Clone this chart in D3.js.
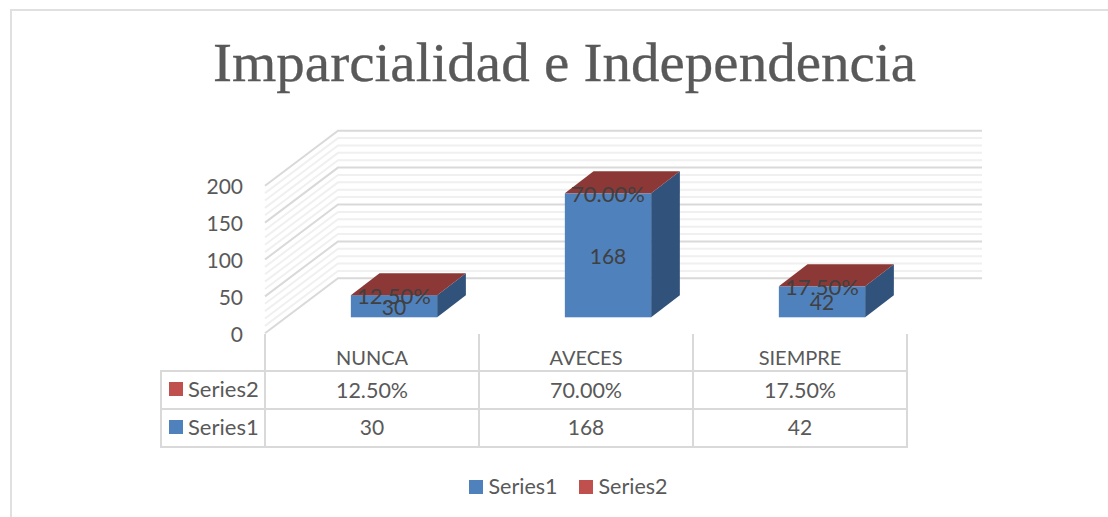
<!DOCTYPE html>
<html><head><meta charset="utf-8">
<script src="https://cdn.jsdelivr.net/npm/d3@7/dist/d3.min.js"></script>
<style>html,body{margin:0;padding:0;background:#fff}svg{display:block}</style>
</head><body><svg id="c" width="1108" height="517"></svg>
<script>
const chartTitle = "Imparcialidad e Independencia";
const categories = ["NUNCA","AVECES","SIEMPRE"];
const series1 = [30,168,42];
const series2 = ["12.50%","70.00%","17.50%"];
const seriesNames = ["Series1","Series2"];
const seriesColors = ["#4f81bd","#c0504d"];
const yTicks = [0,50,100,150,200];
const yMinor = d3.range(0,201,10);

const svg = d3.select("#c");
const sans="Lato, 'Open Sans', sans-serif", txt="#595959", grid="#d9d9d9";
// frame
svg.append("path").attr("d","M11,517V10H1108").attr("fill","none").attr("stroke","#e0e0e0").attr("stroke-width",2);
// title
svg.append("text").attr("x",213).attr("y",80.5)
  .attr("font-family","'Liberation Serif',serif").attr("font-size",54).attr("fill",txt)
  .attr("stroke",txt).attr("stroke-width",0.3)
  .attr("textLength",703).attr("lengthAdjust","spacingAndGlyphs").text(chartTitle);

const x = d3.scaleBand().domain(categories).range([265,907]);
const y = d3.scaleLinear().domain([0,200]).range([278.3,130.7]); // back wall
const dx=73, dy=55; // depth of the floor
const barW=86.3, bdx=28.7, bdy=22, barBottom=317.3, barShift=22;
const backX=338, rightX=982;
const h=v=>y(0)-y(v);

// walls
const g=svg.append("g").attr("fill","none");
yMinor.filter(v=>v%50!==0).concat(yTicks).forEach(v=>{
  const major=v%50===0;
  g.append("path").attr("d",`M${backX-dx},${y(v)+dy}L${backX},${y(v)}H${rightX}`)
    .attr("stroke",major?"#d9d9d9":"#f0f0f0").attr("stroke-width",2);
});

// y axis
yTicks.forEach(v=>{
  svg.append("text").attr("x",243).attr("y",y(v)+dy+8.5).attr("text-anchor","end")
    .attr("font-family",sans).attr("font-size",21).attr("fill",txt).text(v);
});

// bars
categories.forEach((c,i)=>{
  const v=series1[i], cx=x(c)+x.bandwidth()/2+barShift, xl=cx-barW/2, xr=xl+barW, t=barBottom-h(v);
  svg.append("path").attr("d",`M${xr},${barBottom}L${xr+bdx},${barBottom-bdy}V${t-bdy}L${xr},${t}Z`).attr("fill","#31527b");
  svg.append("rect").attr("x",xl).attr("y",t).attr("width",barW).attr("height",h(v)).attr("fill",seriesColors[0]);
  svg.append("path").attr("d",`M${xl},${t}L${xl+bdx},${t-bdy}H${xr+bdx}L${xr},${t}Z`).attr("fill","#8c3836");
  svg.append("text").attr("x",cx).attr("y",t+9).attr("text-anchor","middle").attr("font-family",sans).attr("font-size",22).attr("fill","#404040").text(series2[i]);
  svg.append("text").attr("x",cx).attr("y",(t+barBottom)/2+8.5).attr("text-anchor","middle").attr("font-family",sans).attr("font-size",21).attr("fill","#404040").text(v);
});

// data table
const rows=[371,409,447], tableLeft=161, colEdges=[265,479,693,907];
const line=(a,b,c,d)=>svg.append("line").attr("x1",a).attr("y1",b).attr("x2",c).attr("y2",d).attr("stroke",grid).attr("stroke-width",2);
rows.forEach(r=>line(tableLeft,r,908,r));
colEdges.forEach(e=>line(e,334,e,447));
line(tableLeft,370,tableLeft,448);
categories.forEach((c,i)=>{
  const cx=x(c)+x.bandwidth()/2;
  const tt=(yy,s,fs)=>svg.append("text").attr("x",cx).attr("y",yy).attr("text-anchor","middle").attr("font-family",sans).attr("font-size",fs).attr("fill",txt).text(s);
  tt(365,c,20); tt(397.5,series2[i],21.5); tt(435,series1[i],21);
});
[[1,397],[0,435]].forEach(([k,yy])=>{
  svg.append("rect").attr("x",169).attr("y",yy-15).attr("width",14).attr("height",14).attr("fill",seriesColors[k]);
  svg.append("text").attr("x",188).attr("y",yy).attr("font-family",sans).attr("font-size",22).attr("fill",txt).text(seriesNames[k]);
});
// legend
[[0,469],[1,579]].forEach(([k,lx])=>{
  svg.append("rect").attr("x",lx).attr("y",480).attr("width",14).attr("height",14).attr("fill",seriesColors[k]);
  svg.append("text").attr("x",lx+19.5).attr("y",494).attr("font-family",sans).attr("font-size",21.5).attr("fill",txt).text(seriesNames[k]);
});
</script></body></html>
